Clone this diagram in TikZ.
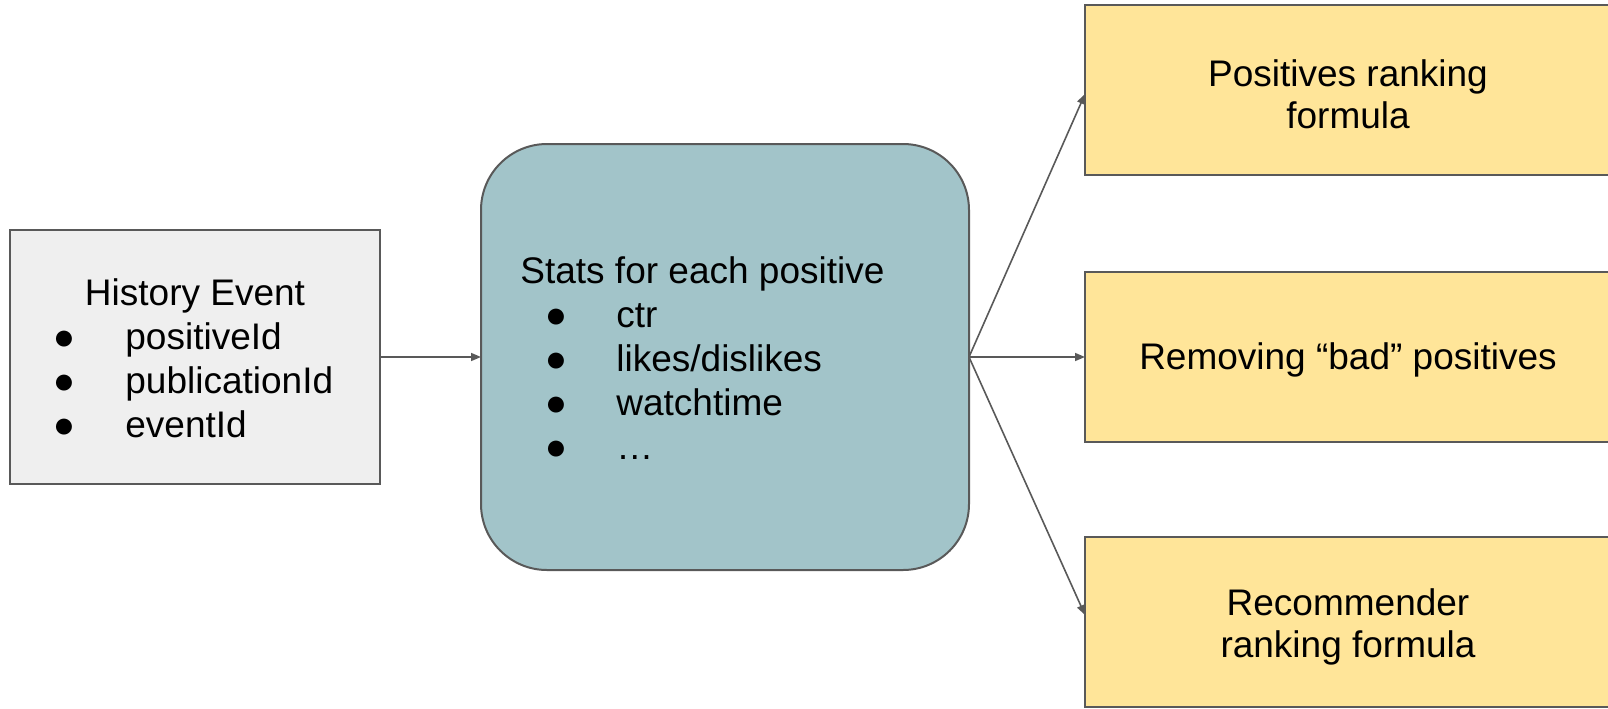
\documentclass[tikz,border=0pt]{standalone}
\usepackage{fontspec}
\setmainfont{Liberation Sans}
\usetikzlibrary{arrows.meta}
\definecolor{graybox}{HTML}{EFEFEF}
\definecolor{tealbox}{HTML}{A2C4C9}
\definecolor{yellowbox}{HTML}{FFE599}
\definecolor{edgegray}{HTML}{595959}
\begin{document}
\begin{tikzpicture}[x=0.5pt,y=-0.5pt,
  box/.style={draw=edgegray, line width=1pt, inner sep=0pt, outer sep=0pt},
  txt/.style={inner sep=0pt, font=\fontsize{18.5pt}{22pt}\selectfont},
  conn/.style={draw=edgegray, line width=0.8pt, -{Triangle[length=5pt,width=4pt]}}]
\useasboundingbox (0,0) rectangle (1608,708);
\clip (0,0) rectangle (1608,708);
% boxes
\node[box, fill=graybox, minimum width=185pt, minimum height=127pt] (hist) at (195,357) {};
\node[box, fill=tealbox, rounded corners=33pt, minimum width=244pt, minimum height=213pt] (stats) at (725,357) {};
\node[box, fill=yellowbox, minimum width=263.5pt, minimum height=85pt] (rank) at (1348.5,90) {};
\node[box, fill=yellowbox, minimum width=263.5pt, minimum height=85pt] (remove) at (1348.5,357) {};
\node[box, fill=yellowbox, minimum width=263.5pt, minimum height=85pt] (rec) at (1348.5,622) {};
% left texts
\node[txt, anchor=base] (h0) at (195,305) {History Event};
\node[txt, anchor=base] (h1b) at (64,349) {●};
\node[txt, anchor=base west] (h1) at (125,349) {positiveId};
\node[txt, anchor=base] (h2b) at (64,393) {●};
\node[txt, anchor=base west] (h2) at (125,393) {publicationId};
\node[txt, anchor=base] (h3b) at (64,437) {●};
\node[txt, anchor=base west] (h3) at (125,437) {eventId};
% center texts
\node[txt, anchor=base west] (s0) at (520,283) {Stats for each positive};
\node[txt, anchor=base] (s1b) at (556,327) {●};
\node[txt, anchor=base west] (s1) at (616,327) {ctr};
\node[txt, anchor=base] (s2b) at (556,371) {●};
\node[txt, anchor=base west] (s2) at (616,371) {likes/dislikes};
\node[txt, anchor=base] (s3b) at (556,415) {●};
\node[txt, anchor=base west] (s3) at (616,415) {watchtime};
\node[txt, anchor=base] (s4b) at (556,459) {●};
\node[txt, anchor=base west] (s4) at (616,459) {…};
% right texts
\node[txt, anchor=base] (p1) at (1348,86) {Positives ranking};
\node[txt, anchor=base] (p2) at (1348,128) {formula};
\node[txt, anchor=base] (r1) at (1348,369) {Removing “bad” positives};
\node[txt, anchor=base] (c1) at (1348,615) {Recommender};
\node[txt, anchor=base] (c2) at (1348,657) {ranking formula};
% connectors
\draw[conn] (hist.east) -- (stats.west);
\draw[conn] (stats.east) -- ([yshift=-2pt]rank.west);
\draw[conn] (stats.east) -- (remove.west);
\draw[conn] (stats.east) -- ([yshift=3.5pt]rec.west);
\end{tikzpicture}
\end{document}
